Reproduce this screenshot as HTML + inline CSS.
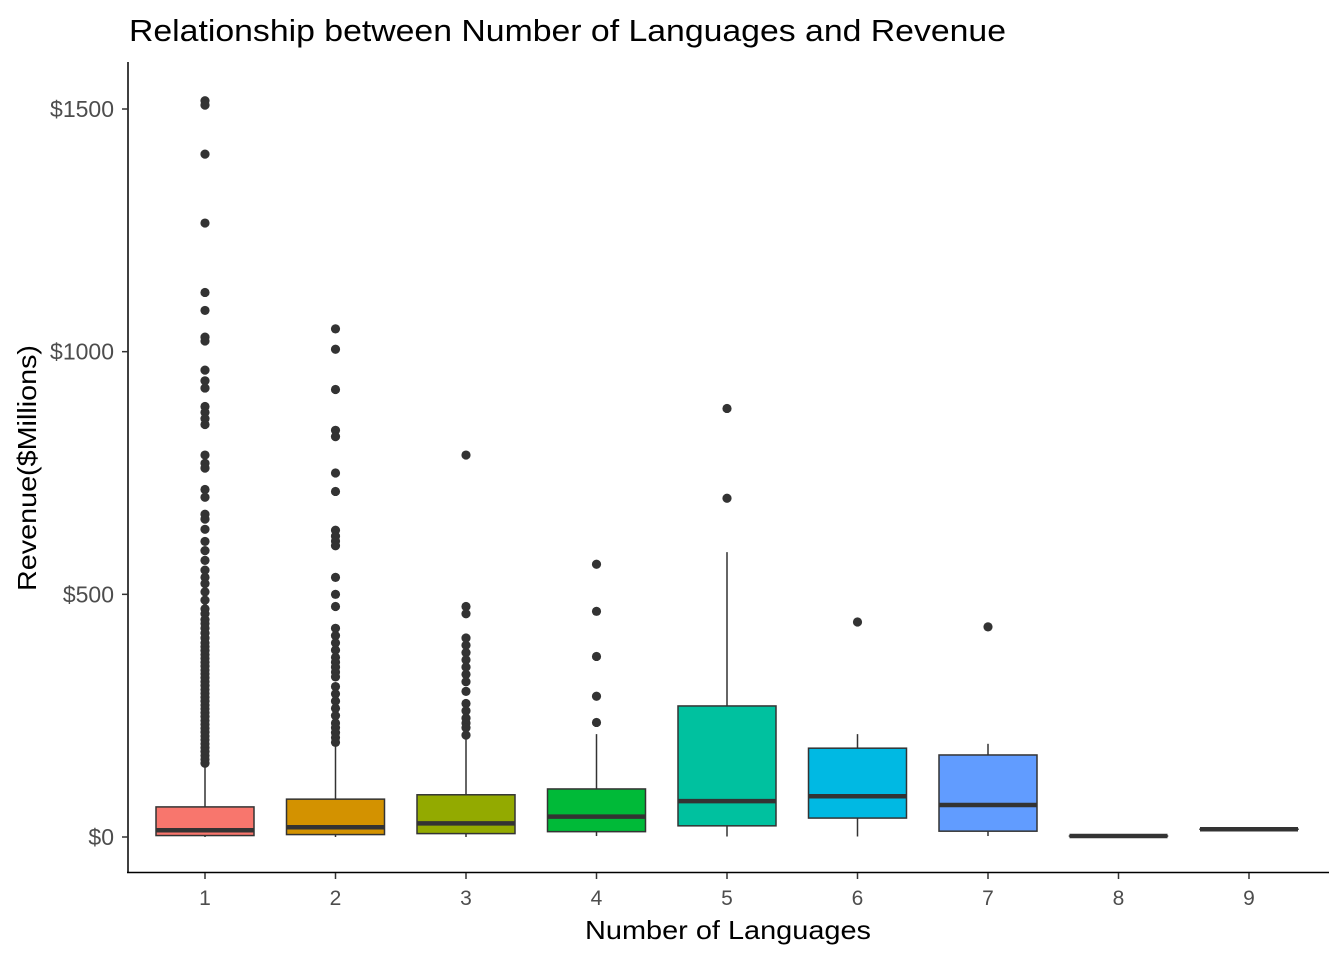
<!DOCTYPE html>
<html><head><meta charset="utf-8"><style>
body{margin:0;background:#fff;}
svg{display:block;font-family:"Liberation Sans",Arial,sans-serif;}
</style></head><body>
<svg id="chart" width="1344" height="960" viewBox="0 0 1344 960">
<rect width="1344" height="960" fill="#fff"/>
<text x="129" y="41" font-size="31" fill="#000" textLength="877" lengthAdjust="spacingAndGlyphs">Relationship between Number of Languages and Revenue</text>
<g id="plot"></g>
<line x1="128" y1="62" x2="128" y2="873" stroke="#000" stroke-width="1.5"/>
<line x1="127" y1="872.5" x2="1329" y2="872.5" stroke="#000" stroke-width="1.5"/>
<g id="axes"></g>
<text x="728" y="939" font-size="26" text-anchor="middle" fill="#000" textLength="286" lengthAdjust="spacingAndGlyphs">Number of Languages</text>
<text transform="translate(36,468) rotate(-90)" font-size="26" text-anchor="middle" fill="#000" textLength="246" lengthAdjust="spacingAndGlyphs">Revenue($Millions)</text>
</svg>
<script>
const categories = ["1","2","3","4","5","6","7","8","9"];
const colors = ["#F8766D","#D39200","#93AA00","#00BA38","#00C19F","#00B9E3","#619CFF","#DB72FB","#FF61C3"];
const whiskerLow = [0,0,0,2,1,1,2,2,16];
const q1 = [3,5,7,11,23,39,12,2,16];
const median = [14,20,28,42,74,84,66,2,16];
const q3 = [62,78,87,99,270,183,169,2,16];
const whiskerHigh = [150,190,210,212,587,212,192,2,16];
const outliers = [
 [1517,1508,1407,1265,1122,1085,1030,1022,962,940,925,887,875,862,850,787,770,760,716,700,665,655,634,609,590,570,550,535,522,505,488,470,460,448,440,430,420,410,400,392,384,376,368,360,352,344,336,328,320,312,304,296,288,280,272,264,256,248,240,232,224,216,208,200,192,184,176,168,160,152],
 [1047,1005,922,838,825,750,712,632,620,610,600,535,500,475,430,415,400,385,370,360,350,340,330,310,295,280,265,250,235,225,215,205,195],
 [787,475,460,410,395,380,365,350,335,320,300,275,260,245,235,225,210],
 [562,465,372,290,236],
 [883,698],
 [443],
 [433],
 [],
 []
];
const yTicks = [0,500,1000,1500];
const yTickLabels = ["$0","$500","$1000","$1500"];

const NS = "http://www.w3.org/2000/svg";
const y = v => 837 - v * 0.48533;
const x = i => 205 + i * 130.5;
const boxW = 98;
function mk(tag, attrs, parent){const e=document.createElementNS(NS,tag);for(const k in attrs)e.setAttribute(k,attrs[k]);parent.appendChild(e);return e;}
const plot = document.getElementById("plot");
const axes = document.getElementById("axes");

categories.forEach((c,i)=>{
  const g = mk("g",{},plot);
  
  
  const cx = x(i);
  const wl = mk("line",{x1:cx,x2:cx,y1:y(whiskerHigh[i]),y2:y(q3[i]),stroke:"#333","stroke-width":1.5},g);
  
  
  const wl2 = mk("line",{x1:cx,x2:cx,y1:y(q1[i]),y2:y(whiskerLow[i]),stroke:"#333","stroke-width":1.5},g);
  
  
  const b = mk("rect",{x:cx-boxW/2,y:y(q3[i]),width:boxW,height:Math.max(0.01,y(q1[i])-y(q3[i])),fill:colors[i],stroke:"#333","stroke-width":1.5},g);
  
  
  const m = mk("line",{x1:cx-boxW/2,x2:cx+boxW/2,y1:y(median[i]),y2:y(median[i]),stroke:"#333","stroke-width":4.5},g);
  
  
  outliers[i].forEach(v=>{
    const p = mk("circle",{cx:cx,cy:y(v),r:4.6,fill:"#333"},g);
    
    
  });
  const t = mk("line",{x1:cx,x2:cx,y1:873,y2:879,stroke:"#333","stroke-width":1.5},axes);
  
  
  const tl = mk("text",{x:cx,y:905,"font-size":21,"text-anchor":"middle",fill:"#4d4d4d"},axes);
  
  
  tl.textContent = c;
});
yTicks.forEach((v,i)=>{
  const t = mk("line",{x1:122,x2:128,y1:y(v),y2:y(v),stroke:"#333","stroke-width":1.5},axes);
  
  
  const tl = mk("text",{x:114,y:y(v)+8,"font-size":23,"text-anchor":"end",fill:"#4d4d4d"},axes);
  
  
  tl.textContent = yTickLabels[i];
});
</script>
</body></html>
